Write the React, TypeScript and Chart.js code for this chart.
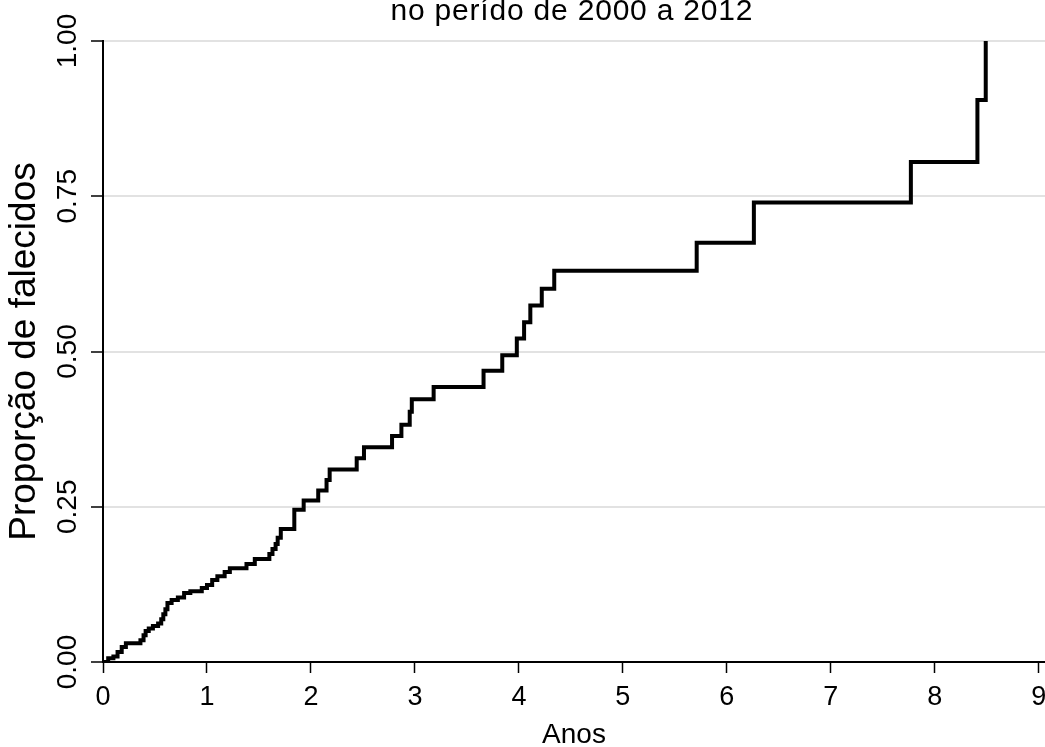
import { useEffect, useRef } from 'react';
import { Chart, registerables } from 'chart.js';

Chart.register(...registerables);

const titleText = 'no perído de 2000 a 2012';
const xAxisTitle = 'Anos';
const yAxisTitle = 'Proporção de falecidos';
const xTickValues = [0, 1, 2, 3, 4, 5, 6, 7, 8, 9];
const yTickValues = [0, 0.25, 0.5, 0.75, 1];

// Kaplan-Meier failure estimate: time (years) at which each jump happens, and the new level
const times = [
  0, 0.05, 0.1, 0.14, 0.18, 0.22, 0.36, 0.39, 0.41, 0.44, 0.48, 0.53, 0.56, 0.58, 0.6, 0.62,
  0.66, 0.72, 0.78, 0.84, 0.95, 1.0, 1.05, 1.1, 1.17, 1.22, 1.38, 1.46, 1.6, 1.63, 1.66, 1.68,
  1.71, 1.84, 1.93, 2.07, 2.15, 2.18, 2.44, 2.51, 2.78, 2.87, 2.95, 2.97, 3.18, 3.66, 3.84,
  3.98, 4.05, 4.11, 4.22, 4.34, 5.71, 6.26, 7.77, 8.41, 8.49,
];
const failure = [
  0, 0.006, 0.009, 0.016, 0.024, 0.03, 0.035, 0.043, 0.05, 0.054, 0.058, 0.062, 0.069, 0.077,
  0.085, 0.095, 0.1, 0.104, 0.111, 0.114, 0.119, 0.124, 0.132, 0.138, 0.145, 0.151, 0.158,
  0.166, 0.174, 0.182, 0.19, 0.2, 0.214, 0.245, 0.26, 0.276, 0.293, 0.31, 0.328, 0.346, 0.364,
  0.382, 0.403, 0.423, 0.443, 0.469, 0.494, 0.521, 0.547, 0.574, 0.601, 0.63, 0.675, 0.74,
  0.805, 0.905, 1.0,
];

const FONT = '"Liberation Sans", Arial, Helvetica, sans-serif';

const topTitlePlugin = {
  id: 'topTitle',
  afterDraw(chart: any) {
    const { ctx } = chart;
    const xs = chart.scales.x;
    const cx = (xs.getPixelForValue(0) + xs.getPixelForValue(9)) / 2 + 1;
    ctx.save();
    ctx.font = `30px ${FONT}`;
    ctx.fillStyle = '#000';
    ctx.textAlign = 'center';
    ctx.textBaseline = 'alphabetic';
    if ('letterSpacing' in ctx) (ctx as any).letterSpacing = '0.8px';
    ctx.fillText(titleText, cx, 20);
    ctx.restore();
  },
};

export default function App() {
  const canvasRef = useRef<HTMLCanvasElement | null>(null);

  useEffect(() => {
    const canvas = canvasRef.current;
    if (!canvas) return;
    const chart = new Chart(canvas, {
      type: 'line',
      data: {
        datasets: [
          {
            data: times.map((t, i) => ({ x: t, y: failure[i] })),
            stepped: 'before',
            borderColor: '#000',
            borderWidth: 4,
            pointRadius: 0,
            fill: false,
            borderJoinStyle: 'miter',
            borderCapStyle: 'butt',
          },
        ],
      },
      options: {
        animation: false,
        responsive: false,
        devicePixelRatio: 1,
        layout: { padding: { top: 41, left: 0, right: 0, bottom: 0 } },
        plugins: {
          legend: { display: false },
          tooltip: { enabled: false },
          title: { display: false },
        },
        scales: {
          x: {
            type: 'linear',
            min: 0,
            max: 9.06,
            afterBuildTicks: (s: any) => {
              s.ticks = xTickValues.map((v) => ({ value: v }));
            },
            afterFit: (s: any) => {
              s.height = 85;
              s.paddingLeft = 0;
              s.paddingRight = 0;
            },
            grid: {
              drawOnChartArea: false,
              drawTicks: true,
              tickLength: 11,
              tickColor: '#000',
              tickWidth: 1.5,
            },
            border: { display: true, color: '#000', width: 2 },
            ticks: {
              stepSize: 1,
              autoSkip: false,
              maxRotation: 0,
              color: '#000',
              padding: 8,
              font: { family: FONT, size: 27 },
              callback: (v: any) => String(v),
            },
            title: {
              display: true,
              text: xAxisTitle,
              color: '#000',
              font: { family: FONT, size: 28 },
              padding: { top: 0, bottom: -5 },
            },
          },
          y: {
            type: 'linear',
            min: 0,
            max: 1,
            afterBuildTicks: (s: any) => {
              s.ticks = yTickValues.map((v) => ({ value: v }));
            },
            afterFit: (s: any) => {
              s.width = 103;
              s.paddingTop = 0;
              s.paddingBottom = 0;
            },
            grid: {
              color: (c: any) => (c.tick && c.tick.value === 0 ? 'rgba(0,0,0,0)' : '#e2e2e2'),
              lineWidth: 2,
              drawTicks: true,
              tickLength: 12,
              tickColor: '#000',
              tickWidth: 1.5,
            },
            border: { display: true, color: '#000', width: 2 },
            ticks: {
              autoSkip: false,
              minRotation: 90,
              maxRotation: 90,
              crossAlign: 'center',
              padding: -5,
              color: '#000',
              font: { family: FONT, size: 28 },
              callback: (v: any) => Number(v).toFixed(2),
            },
            title: {
              display: true,
              text: yAxisTitle,
              color: '#000',
              font: { family: FONT, size: 37 },
              padding: { top: 3, bottom: 0 },
            },
          },
        },
      },
      plugins: [topTitlePlugin],
    } as any);
    return () => chart.destroy();
  }, []);

  return (
    <div style={{ position: 'fixed', left: 0, top: 0, width: 1045, height: 747, background: '#fff' }}>
      <canvas ref={canvasRef} width={1045} height={747} style={{ display: 'block' }} />
    </div>
  );
}
